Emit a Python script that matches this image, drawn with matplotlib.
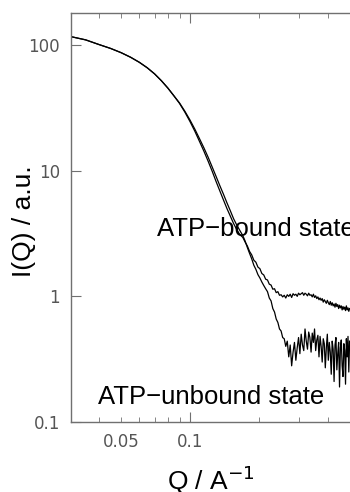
import matplotlib
matplotlib.use('Agg')
import matplotlib.pyplot as plt
from matplotlib.ticker import NullLocator

# ---------- data ----------
# low-Q part, both states nearly the same
q_low = [0.030, 0.035, 0.040, 0.045, 0.050, 0.055, 0.060, 0.065, 0.070, 0.075,
         0.080, 0.085, 0.090, 0.095, 0.100, 0.105, 0.110, 0.115, 0.120, 0.125,
         0.130, 0.135, 0.140, 0.145, 0.150, 0.155, 0.160, 0.165]
i_low_bound = [117, 110, 101, 94, 87, 80, 73, 66, 59, 52,
               45.5, 39.5, 34.3, 29.2, 24.6, 20.6, 17.1, 14.3, 11.9, 9.9,
               8.2, 6.9, 5.85, 5.0, 4.35, 3.8, 3.4, 3.1]
i_low_unbound = [117, 110, 101, 94, 87, 80, 73, 66, 59, 52,
                 45.5, 39.5, 34.6, 29.7, 25.3, 21.4, 18.0, 15.2, 12.8, 10.7,
                 9.0, 7.6, 6.5, 5.55, 4.8, 4.15, 3.7, 3.35]

# high-Q part (noisy)
q_high = [0.170, 0.174, 0.178, 0.182, 0.186, 0.190, 0.194, 0.198, 0.202, 0.206,
          0.210, 0.214, 0.218, 0.222, 0.226, 0.230, 0.234, 0.238, 0.242, 0.246,
          0.250, 0.254, 0.258, 0.262, 0.266, 0.270, 0.274, 0.278, 0.282, 0.286,
          0.290, 0.294, 0.298, 0.302, 0.306, 0.310, 0.314, 0.318, 0.322, 0.326,
          0.330, 0.334, 0.338, 0.342, 0.346, 0.350, 0.354, 0.358, 0.362, 0.366,
          0.370, 0.374, 0.378, 0.382, 0.386, 0.390, 0.394, 0.398, 0.402, 0.406,
          0.410, 0.414, 0.418, 0.422, 0.426, 0.430, 0.434, 0.438, 0.442, 0.446,
          0.450, 0.454, 0.458, 0.462, 0.466, 0.470, 0.474, 0.478, 0.482, 0.486,
          0.490, 0.494, 0.498]
i_high_bound = [2.95, 2.71, 2.52, 2.28, 2.14, 1.94, 1.87, 1.71, 1.66, 1.52,
                1.48, 1.37, 1.35, 1.25, 1.23, 1.14, 1.15, 1.07, 1.09, 1.02,
                1.03, 0.99, 1.02, 0.97, 1.03, 1.00, 1.04, 0.98, 1.05, 1.02,
                1.04, 1.00, 1.06, 1.03, 1.05, 1.07, 1.02, 1.06, 1.04, 1.01,
                1.06, 1.02, 1.03, 0.99, 1.04, 0.98, 1.01, 0.96, 0.99, 0.94,
                0.97, 0.93, 0.96, 0.90, 0.94, 0.91, 0.88, 0.93, 0.89, 0.86,
                0.91, 0.85, 0.89, 0.84, 0.87, 0.82, 0.88, 0.83, 0.86, 0.80,
                0.85, 0.81, 0.84, 0.78, 0.83, 0.79, 0.82, 0.77, 0.84, 0.78,
                0.81, 0.76, 0.80]
i_high_unbound = [3.05, 2.76, 2.45, 2.20, 1.99, 1.77, 1.64, 1.49, 1.40, 1.30,
                  1.22, 1.15, 1.09, 0.97, 0.92, 0.80, 0.75, 0.66, 0.62, 0.55,
                  0.53, 0.47, 0.46, 0.40, 0.44, 0.33, 0.41, 0.28, 0.36, 0.43,
                  0.31, 0.39, 0.47, 0.35, 0.50, 0.41, 0.37, 0.55, 0.44, 0.38,
                  0.52, 0.47, 0.36, 0.51, 0.43, 0.55, 0.37, 0.45, 0.49, 0.33,
                  0.48, 0.40, 0.30, 0.46, 0.42, 0.27, 0.39, 0.50, 0.31, 0.43,
                  0.36, 0.24, 0.44, 0.38, 0.21, 0.41, 0.47, 0.26, 0.35, 0.43,
                  0.19, 0.39, 0.45, 0.28, 0.23, 0.42, 0.37, 0.20, 0.46, 0.33,
                  0.48, 0.25, 0.44]

x_minor = [0.04, 0.05, 0.06, 0.07, 0.08, 0.09, 0.2, 0.3, 0.4]
x_minor_labels = ['', '0.05', '', '', '', '', '', '', '']
y_ticks = [0.1, 1, 10, 100]
y_tick_labels = ['0.1', '1', '10', '100']

# ---------- figure ----------
fig = plt.figure(figsize=(3.5, 4.92), dpi=100)
ax = fig.add_axes([71 / 350, 70 / 492, 1 - 71 / 350, 409 / 492])

for i_lo, i_hi in [(i_low_bound, i_high_bound), (i_low_unbound, i_high_unbound)]:
    ax.plot(q_low + q_high, i_lo + i_hi, color='black', lw=0.9)

ax.set_xscale('log')
ax.set_yscale('log')
ax.set_xlim(0.0302, 0.5)
ax.set_ylim(0.1, 180)

grey = '#555555'
for s in ['left', 'bottom', 'top']:
    ax.spines[s].set_color('#707070')
    ax.spines[s].set_linewidth(1.0)
ax.spines['right'].set_visible(False)

ax.set_xticks([0.1], labels=['0.1'])
ax.set_xticks(x_minor, labels=x_minor_labels, minor=True)
ax.set_yticks(y_ticks, labels=y_tick_labels)
ax.yaxis.set_minor_locator(NullLocator())

ax.tick_params(axis='x', which='both', direction='in', top=True, colors='#707070',
               labelcolor=grey, labelsize=12, pad=8)
ax.tick_params(axis='x', which='major', length=7)
ax.tick_params(axis='x', which='minor', length=3.5)
ax.tick_params(axis='y', which='major', direction='in', length=7, right=False,
               colors='#707070', labelcolor=grey, labelsize=12, pad=8)

ax.set_xlabel('Q / A$^{-1}$', fontsize=19, family='Liberation Sans', labelpad=9)
ax.set_ylabel('I(Q) / a.u.', fontsize=19, family='Liberation Sans')
ax.yaxis.set_label_coords(-0.125, 0.49)

ax.text(0.0717, 3.0, 'ATP\u2212bound state', fontsize=18.5,
        family='Liberation Sans', va='baseline', ha='left', clip_on=False)
ax.text(0.0396, 0.139, 'ATP\u2212unbound state', fontsize=18.5,
        family='Liberation Sans', va='baseline', ha='left')

fig.savefig('out.png', dpi=100)
